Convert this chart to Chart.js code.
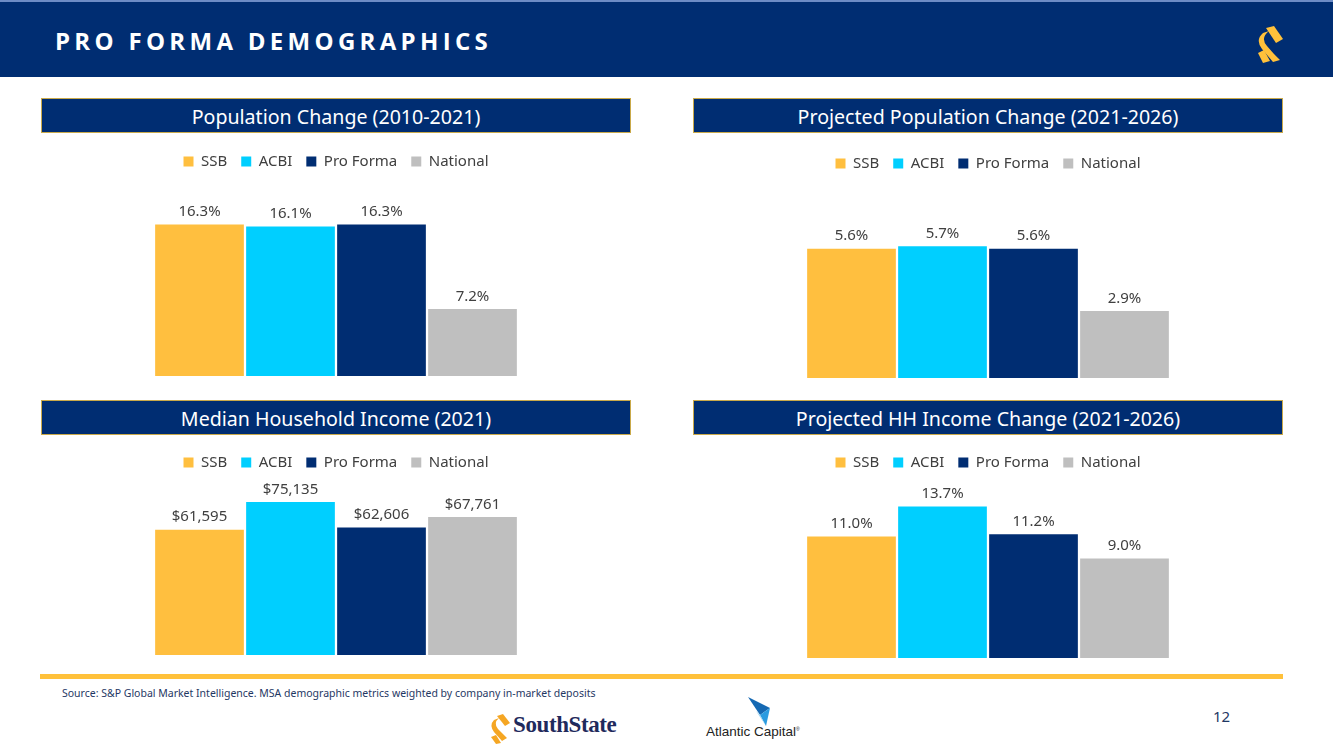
<!DOCTYPE html>
<html>
<head>
<meta charset="utf-8">
<script src="https://cdn.jsdelivr.net/npm/chart.js@4.4.1/dist/chart.umd.min.js"></script>
<style>
  body { margin: 0; width: 1333px; height: 750px; background: #fff; position: relative; overflow: hidden; font-family: "Noto Sans", sans-serif; }
  .cabecera { position: absolute; left: 0; top: 0; width: 1333px; height: 77px; background: #002d72; border-top: 2px solid #6d8cc6; box-sizing: border-box; }
  .cabecera h1 { position: absolute; left: 55px; top: 22px; margin: 0; color: #fff; font: bold 24px "Open Sans", sans-serif; letter-spacing: 4.3px; }
  .cabecera svg { position: absolute; left: 1254px; top: 22px; }
  .titulo { position: absolute; width: 590px; height: 35px; background: #002d72; border: 1px solid #c9a94a; box-sizing: border-box;
            color: #fff; font-size: 19.6px; line-height: 36px; text-align: center; }
  .grafico { position: absolute; width: 590px; }
  .linea { position: absolute; left: 40px; top: 674px; width: 1243px; height: 5px; background: #ffc13b; }
  .fuente { position: absolute; left: 62px; top: 686px; font-size: 10.5px; color: #1f3864; }
  .pagina { position: absolute; left: 1213px; top: 706px; font-size: 15px; color: #1f3864; }
  .southstate { position: absolute; left: 489px; top: 714px; }
  .southstate span { position: absolute; left: 24px; top: -2px; font: bold 23px "Liberation Serif", serif; color: #1f2a5c; letter-spacing: -0.4px; white-space: nowrap; }
  .atlantic { position: absolute; left: 706px; top: 696px; }
  .atlantic span { position: absolute; left: 0; top: 28px; font: 13.5px "Liberation Sans", sans-serif; color: #222; white-space: nowrap; }
</style>
</head>
<body>
<div class="cabecera">
  <h1>PRO FORMA DEMOGRAPHICS</h1>
  <svg width="30" height="40" viewBox="0 0 30 40">
    <path d="M12 4 L20 2 L29 15 L22 19 Z" fill="#ffc13b"/>
    <path d="M9 9 L15 7 Q6 14 13 22 L20 30 L26 36 L19 38 L8 25 Q1 16 9 9 Z" fill="#ffc13b"/>
    <path d="M4 29 L10 26 L16 37 L9 39 Z" fill="#ffc13b"/>
  </svg>
</div>

<div class="titulo" style="left:41px; top:98px;">Population Change (2010-2021)</div>
<div class="titulo" style="left:693px; top:98px;">Projected Population Change (2021-2026)</div>
<div class="titulo" style="left:41px; top:400px;">Median Household Income (2021)</div>
<div class="titulo" style="left:693px; top:400px;">Projected HH Income Change (2021-2026)</div>

<div class="grafico" style="left:41px; top:140px; height:236px;"><canvas id="chartPoblacion"></canvas></div>
<div class="grafico" style="left:693px; top:142px; height:236px;"><canvas id="chartPoblacionProy"></canvas></div>
<div class="grafico" style="left:41px; top:441px; height:214px;"><canvas id="chartIngreso"></canvas></div>
<div class="grafico" style="left:693px; top:441px; height:217px;"><canvas id="chartIngresoProy"></canvas></div>

<div class="linea"></div>
<div class="fuente">Source: S&amp;P Global Market Intelligence. MSA demographic metrics weighted by company in-market deposits</div>
<div class="pagina">12</div>

<div class="southstate">
  <svg width="22" height="30" viewBox="0 0 22 30">
    <path d="M8 2 L14 0 L21 9 L16 12 Z" fill="#f5a623"/>
    <path d="M5 6 L10 4 Q4 9 9 15 L18 24 L13 27 L5 18 Q0 11 5 6 Z" fill="#f5a623"/>
    <path d="M2 23 L7 21 L12 29 L7 30 Z" fill="#f5a623"/>
  </svg>
  <span>SouthState</span>
</div>

<div class="atlantic">
  <svg width="110" height="32" viewBox="0 0 110 32">
    <polygon points="42,1 64,12 54,19" fill="#1569b3"/>
    <polygon points="54,19 64,12 60,30" fill="#2a9be0"/>
    <polygon points="50,15 54,19 60,30" fill="#9fd6f2"/>
  </svg>
  <span>Atlantic Capital<sup style="font-size:5px;">®</sup></span>
</div>

<script>
// Series y colores
const series = ["SSB", "ACBI", "Pro Forma", "National"];
const colores = ["#ffbf3f", "#00cfff", "#002d72", "#bfbfbf"];

const cambioPoblacion = [16.3, 16.1, 16.3, 7.2];
const cambioPoblacionProy = [5.6, 5.7, 5.6, 2.9];
const ingresoMediano = [61595, 75135, 62606, 67761];
const cambioIngresoProy = [11.0, 13.7, 11.2, 9.0];

const fmtPorcentaje = (v) => v.toFixed(1) + "%";
const fmtDolares = (v) => "$" + v.toLocaleString("en-US");

// Plugin para escribir el valor encima de cada barra
function crearEtiquetas(formato) {
  return {
    id: "etiquetasValor",
    afterDatasetsDraw(chart) {
      const ctx = chart.ctx;
      ctx.save();
      ctx.font = '15px "Noto Sans"';
      ctx.fillStyle = "#404040";
      ctx.textAlign = "center";
      ctx.textBaseline = "bottom";
      chart.data.datasets.forEach((ds, i) => {
        chart.getDatasetMeta(i).data.forEach((barra, j) => {
          ctx.fillText(formato(ds.data[j]), barra.x, barra.y - 5);
        });
      });
      ctx.restore();
    },
  };
}

// Función para crear cada gráfico de barras
function crearGrafico(id, valores, maximo, formato) {
  const ctx = document.getElementById(id).getContext("2d");
  return new Chart(ctx, {
    type: "bar",
    data: {
      labels: [""],
      datasets: series.map((nombre, i) => ({
        label: nombre,
        data: [valores[i]],
        backgroundColor: colores[i],
        categoryPercentage: 364 / 590,
        barPercentage: 0.975,
      })),
    },
    options: {
      responsive: true,
      maintainAspectRatio: false,
      animation: false,
      layout: { padding: 0 },
      plugins: {
        tooltip: { enabled: false },
        legend: {
          position: "top",
          labels: {
            boxWidth: 10,
            boxHeight: 10,
            padding: 14,
            color: "#404040",
            font: { family: "Noto Sans", size: 15 },
          },
        },
      },
      scales: {
        x: { display: false },
        y: { display: false, min: 0, max: maximo },
      },
    },
    plugins: [crearEtiquetas(formato)],
  });
}

document.addEventListener("DOMContentLoaded", () => {
  crearGrafico("chartPoblacion", cambioPoblacion, 21.2, fmtPorcentaje);
  crearGrafico("chartPoblacionProy", cambioPoblacionProy, 8.53, fmtPorcentaje);
  crearGrafico("chartIngreso", ingresoMediano, 86000, fmtDolares);
  crearGrafico("chartIngresoProy", cambioIngresoProy, 16.1, fmtPorcentaje);
});
</script>
</body>
</html>
